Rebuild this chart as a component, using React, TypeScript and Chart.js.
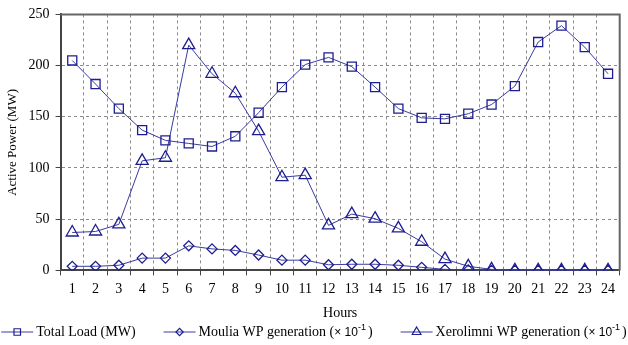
import React, { useEffect, useRef } from 'react';
import { Chart, registerables } from 'chart.js';
import { drawPoint } from 'chart.js/helpers';

Chart.register(...registerables);

const hours = ['1', '2', '3', '4', '5', '6', '7', '8', '9', '10', '11', '12', '13', '14', '15', '16', '17', '18', '19', '20', '21', '22', '23', '24'];
const totalLoad = [205, 182, 158, 137, 127, 124, 121, 131, 154, 179, 201, 208, 199, 179, 158, 149, 148, 153, 162, 180, 223, 239, 218, 192];
const moulia = [4, 4, 5, 12, 12, 24, 21, 19.5, 15, 10, 10, 5.5, 6, 6, 5, 3, 1, 0.5, 0, 0, 0, 0, 0, 0];
const xerolimni = [37, 38, 45, 107, 110, 220, 192, 173, 136, 91, 93, 44, 55, 50.5, 41, 28, 11, 4, 1, 0, 0, 0, 0, 0];
const seriesNames = ['Total Load (MW)', 'Moulia WP generation', 'Xerolimni WP generation'];
const seriesExponent = ['', '-1', '-1'];
const yTicks = [0, 50, 100, 150, 200, 250];
const xTitle = 'Hours';
const yTitle = 'Active Power (MW)';

const SERIF = "'Liberation Serif', 'Times New Roman', serif";
const SANS = "'Liberation Sans', Arial, sans-serif";
const LINE = '#3a3aa2';
const MARK = '#1e1e90';

const framePlugin = {
  id: 'frame',
  afterDraw(chart: any) {
    const { ctx, chartArea } = chart;
    ctx.save();
    ctx.strokeStyle = '#666';
    ctx.lineWidth = 2;
    ctx.beginPath();
    ctx.moveTo(chartArea.left, chartArea.top);
    ctx.lineTo(chartArea.right, chartArea.top);
    ctx.lineTo(chartArea.right, chartArea.bottom);
    ctx.stroke();
    ctx.restore();
  },
};

const legendPlugin = {
  id: 'customLegend',
  afterDraw(chart: any) {
    const ctx = chart.ctx;
    const y = chart.height - 13;
    const markW = 32;
    const gapText = 3;
    const gapItem = 28;
    const mainFont = `14px ${SERIF}`;
    const xFont = `12px ${SANS}`;
    const supFont = `9px ${SANS}`;
    ctx.save();
    const items = chart.data.datasets.map((ds: any, i: number) => {
      const exp = seriesExponent[i];
      ctx.font = mainFont;
      const mainText = exp ? seriesNames[i] + ' (' : seriesNames[i];
      const w = ctx.measureText(mainText).width;
      let xw = 0, sw = 0, cw = 0;
      if (exp) {
        ctx.font = xFont;
        xw = ctx.measureText('\u00d7 10').width;
        ctx.font = supFont;
        sw = ctx.measureText(exp).width;
        ctx.font = mainFont;
        cw = ctx.measureText(')').width;
      }
      return { ds, mainText, exp, w, xw, sw, cw, total: markW + gapText + w + xw + sw + cw + (exp ? 2 : 0) };
    });
    const total = items.reduce((a: number, it: any) => a + it.total, 0) + gapItem * (items.length - 1);
    let x = (chart.width - total) / 2;
    items.forEach((it: any) => {
      const ds = it.ds;
      ctx.strokeStyle = LINE;
      ctx.lineWidth = 1;
      ctx.beginPath();
      ctx.moveTo(x, y);
      ctx.lineTo(x + markW, y);
      ctx.stroke();
      ctx.strokeStyle = MARK;
      ctx.fillStyle = 'rgba(0,0,0,0)';
      ctx.lineWidth = 1.2;
      drawPoint(ctx, { pointStyle: ds.pointStyle, radius: ds.pointRadius * 0.72, rotation: 0, borderWidth: 1.2 } as any, x + markW / 2, y);
      let tx = x + markW + gapText;
      ctx.fillStyle = '#000';
      ctx.textBaseline = 'middle';
      ctx.textAlign = 'left';
      ctx.font = mainFont;
      ctx.fillText(it.mainText, tx, y);
      tx += it.w;
      if (it.exp) {
        ctx.font = xFont;
        ctx.fillText('\u00d7 10', tx, y + 1);
        tx += it.xw;
        ctx.font = supFont;
        ctx.fillText(it.exp, tx, y - 4);
        tx += it.sw + 2;
        ctx.font = mainFont;
        ctx.fillText(')', tx, y);
      }
      x += it.total + gapItem;
    });
    ctx.restore();
  },
};

export default function App() {
  const ref = useRef<HTMLCanvasElement>(null);
  useEffect(() => {
    document.body.style.margin = '0';
    const canvas = ref.current;
    if (!canvas) return;
    const common = {
      borderColor: LINE,
      borderWidth: 1,
      pointBorderColor: MARK,
      pointBackgroundColor: 'rgba(0,0,0,0)',
      pointBorderWidth: 1.3,
      tension: 0,
      fill: false,
    };
    const chart = new Chart(canvas, {
      type: 'line',
      data: {
        labels: hours,
        datasets: [
          { ...common, label: seriesNames[0], data: totalLoad, pointStyle: 'rect', pointRadius: 6.4 },
          { ...common, label: seriesNames[1] + ' (\u00d7 10\u207b\u00b9)', data: moulia, pointStyle: 'rectRot', pointRadius: 5 },
          { ...common, label: seriesNames[2] + ' (\u00d7 10\u207b\u00b9)', data: xerolimni, pointStyle: 'triangle', pointRadius: 7 },
        ],
      },
      options: {
        responsive: false,
        animation: false,
        layout: { padding: { left: 5, right: 3, top: 4, bottom: 23 } },
        plugins: { legend: { display: false }, tooltip: { enabled: false } },
        scales: {
          x: {
            type: 'category',
            offset: true,
            grid: { offset: true, color: '#8a8a8a', lineWidth: 1, tickLength: 5, tickColor: '#444' },
            border: { color: '#444', width: 2, dash: [3, 3] },
            ticks: { color: '#000', font: { family: SERIF, size: 14 }, padding: 6, maxRotation: 0, autoSkip: false },
            title: { display: true, text: xTitle, color: '#000', font: { family: SERIF, size: 14 }, padding: { top: 1, bottom: 0 } },
          },
          y: {
            min: 0,
            max: 250,
            afterBuildTicks: (axis: any) => { axis.ticks = yTicks.map((v) => ({ value: v })); },
            grid: { color: '#8a8a8a', lineWidth: 1, tickLength: 5, tickColor: '#444' },
            border: { color: '#444', width: 2, dash: [3, 3] },
            ticks: { color: '#000', font: { family: SERIF, size: 14 }, padding: 6 },
            title: { display: true, text: yTitle, color: '#000', font: { family: SERIF, size: 13 }, padding: { top: 0, bottom: 2 } },
          },
        },
      },
      plugins: [framePlugin, legendPlugin],
    } as any);
    return () => chart.destroy();
  }, []);
  return (
    <div style={{ width: 628, height: 345 }}>
      <canvas ref={ref} width={628} height={345} />
    </div>
  );
}
